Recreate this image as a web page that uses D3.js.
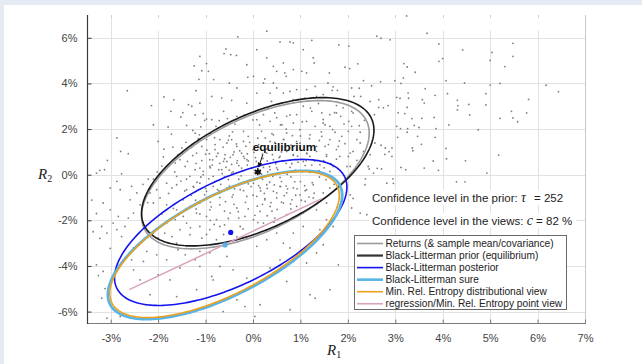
<!DOCTYPE html>
<html><head><meta charset="utf-8">
<script src="https://cdn.jsdelivr.net/npm/d3@7"></script>
<style>
html,body{margin:0;padding:0;background:#e6ebf3;}
svg{display:block;}
</style></head>
<body>
<svg id="chart" width="642" height="364"></svg>
<script>
// ---------- data (percent units) ----------
const xTicks = [-3, -2, -1, 0, 1, 2, 3, 4, 5, 6, 7];
const yTicks = [-6, -4, -2, 0, 2, 4, 6];
const xDomain = [-3.5, 7];
const yDomain = [-6.5, 7];

const legendLabels = [
  "Returns (& sample mean/covariance)",
  "Black-Litterman prior (equilibrium)",
  "Black-Litterman posterior",
  "Black-Litterman sure",
  "Min. Rel. Entropy distributional view",
  "regression/Min. Rel. Entropy point view"
];
const seriesColors = ["#9a9a9a", "#1a1a1a", "#1414f0", "#58b4e6", "#eda11b", "#d8a2bf"];

// ellipses: returns, prior, posterior, sure, MRE distributional
const ellipseCenterX = [0.05, 0.10, -0.47, -0.59, -0.60];
const ellipseCenterY = [0.00, 0.13, -2.53, -3.08, -3.06];
const ellipseHalfX   = [2.40, 2.45, 2.45, 2.47, 2.42];
const ellipseHalfY   = [3.25, 3.25, 3.20, 3.25, 3.20];
const ellipseCorr    = [0.56, 0.56, 0.62, 0.67, 0.67];

// regression / point view line
const regressionX = [-2.61, 1.45];
const regressionY = [-5.04, -1.05];

// means
const equilibrium = [0.10, 0.13];
const posteriorMean = [-0.47, -2.53];
const sureMean = [-0.59, -3.08];

const tau = 252;
const confidence = 82;

// sample returns
const returnPoints = [
[2.61,6.07],[2.70,5.98],[2.89,5.91],[3.67,6.20],[3.24,6.96],[3.92,5.73],[1.81,5.69],[2.02,5.64],[4.42,5.47],[5.04,5.36],
[5.48,5.76],[5.48,5.19],[5.00,5.01],[5.31,4.74],[3.92,4.97],[4.00,5.09],[1.94,4.71],[2.04,4.65],[2.21,4.86],[3.18,4.87],
[3.25,4.72],[3.42,4.49],[1.61,4.46],[2.33,4.12],[2.69,4.07],[2.99,4.12],[3.17,4.24],[3.12,4.00],[4.07,4.12],[4.46,4.02],
[5.00,3.93],[5.21,4.00],[6.18,3.92],[6.44,3.64],[5.81,3.30],[5.77,2.71],[5.45,2.78],[5.48,2.49],[5.58,2.32],[5.21,2.47],
[4.91,3.55],[4.91,3.06],[4.57,2.62],[4.55,3.08],[4.31,3.26],[4.32,3.03],[4.31,2.84],[4.10,3.55],[3.84,3.48],[3.63,3.77],
[3.57,3.29],[3.61,3.14],[3.27,3.58],[3.28,3.35],[3.10,3.35],[3.03,3.39],[3.06,2.72],[3.25,2.95],[3.20,2.68],[3.35,2.46],
[3.56,2.47],[3.82,2.51],[4.13,2.18],[3.86,2.02],[3.50,2.07],[3.40,2.16],[3.26,2.02],[3.11,2.02],[3.03,2.12],[3.05,1.64],
[3.25,1.86],[3.47,1.68],[3.84,1.64],[4.75,1.97],[4.07,1.15],[4.08,0.70],[4.48,0.61],[5.18,0.86],[4.93,0.07],[3.91,0.19],
[3.80,0.60],[3.61,0.29],[3.55,1.33],[3.36,1.17],[3.37,1.05],[3.12,0.32],[3.22,0.22],[2.93,0.80],[2.93,1.18],[2.79,1.17],
[2.87,1.01],[2.70,1.29],[2.78,0.89],[2.71,0.25],[2.62,0.28],[2.45,0.25],[2.95,-0.18],[2.37,-0.18],[4.29,-0.31],[4.47,-0.31],
[1.58,4.02],[1.69,3.85],[1.78,3.70],[1.67,3.70],[1.48,3.51],[2.08,3.80],[2.24,3.79],[2.50,3.90],[2.13,3.43],[2.27,3.43],
[2.47,3.21],[2.65,3.29],[2.75,2.93],[2.65,2.95],[2.85,3.03],[2.56,2.63],[2.35,2.38],[2.24,2.15],[2.26,1.86],[2.08,2.12],
[2.01,1.90],[2.02,2.34],[1.85,2.56],[1.76,2.71],[1.62,2.63],[1.90,2.93],[1.76,3.03],[2.08,2.78],[2.11,2.71],[1.48,2.27],
[1.62,2.12],[1.73,1.86],[1.87,1.68],[1.94,1.36],[1.80,1.24],[1.62,1.54],[1.52,1.24],[2.19,1.54],[2.26,1.39],[2.33,1.02],
[2.11,1.02],[2.01,0.80],[2.19,0.63],[2.05,0.36],[1.83,0.80],[1.55,0.80],[1.69,0.36],[2.43,0.36],[2.54,0.07],[2.47,0.88],
[2.57,1.39],
[-0.57,5.51],[-0.61,5.31],[-0.47,5.26],[-0.35,5.23],[-0.98,4.87],[-1.24,4.77],[-1.08,4.56],[-0.13,4.82],[-0.11,4.27],[-0.83,4.17],
[-1.14,4.18],[-0.34,3.80],[-0.50,4.02],[-1.20,3.68],[-2.65,3.68],[-1.88,3.41],[-1.67,3.28],[-2.14,3.03],[-1.36,3.07],[-1.29,3.00],
[-1.12,3.14],[-0.87,3.43],[-0.66,3.36],[-0.45,3.26],[-0.13,3.14],[-1.73,2.78],[-1.52,2.53],[-1.22,2.62],[-1.05,2.68],[-0.98,2.44],
[-0.87,2.41],[-0.71,2.37],[-0.54,2.46],[-0.34,2.56],[-2.10,2.19],[-1.79,2.09],[-1.40,2.16],[-1.27,1.94],[-2.87,1.61],[-2.00,1.46],
[-1.13,1.75],[-1.15,1.58],[-2.79,1.02],[-2.63,0.92],[-3.07,0.63],[-3.13,0.22],[-2.77,0.04],[-2.21,-0.19],[-2.10,-0.19],[-1.89,0.78],
[-1.69,1.21],[-1.50,1.18],[-1.39,1.07],[-1.49,0.95],[-1.54,0.66],[-1.64,0.51],[-1.43,0.36],[-1.22,0.22],[-1.12,0.29],[-0.91,0.36],
[-0.66,0.22],[-1.19,0.95],[-1.08,1.24],[-0.98,1.54],[-0.80,1.32],[-0.70,1.54],[-0.55,1.39],[-0.45,1.54],[-0.34,1.24],[-0.20,1.46],
[-0.10,1.68],[-0.24,0.95],[-0.42,0.88],[-0.59,0.88],[-0.77,0.80],[-0.91,0.66],[-0.55,0.58],[-0.34,0.51],[-0.13,0.66],[-0.24,0.29],
[-0.45,0.07],[-0.84,-0.07],[-1.05,0.00],[-1.33,-0.07],[-1.61,-0.07],[-3.23,0.19],[-3.30,0.07],[-0.32,6.04],[0.29,6.29],[0.57,5.82],
[0.78,5.82],[0.85,5.78],[1.06,5.48],[1.24,5.89],[1.27,5.12],[1.03,4.53],[0.70,4.31],[0.85,4.61],[0.64,4.90],[0.43,4.75],
[0.29,5.12],[0.08,5.48],[0.01,4.31],[0.22,4.02],[0.50,3.80],[0.78,3.65],[1.13,3.73],[1.31,3.87],[-1.12,5.19],[-0.94,4.53],
[1.29,4.90],[1.13,4.46],[0.67,4.46],[0.50,4.53],[0.25,4.20],[0.43,4.02],[0.92,3.73],[0.64,3.58],[0.36,3.58],[0.08,3.58],
[0.39,3.21],[0.61,3.14],[0.85,3.29],[1.10,3.36],[1.34,3.43],[1.06,3.00],[1.24,2.78],[1.45,2.71],[0.92,2.63],[0.71,2.56],
[0.46,2.71],[0.22,2.63],[0.08,2.41],[0.36,2.34],[0.61,2.19],[0.85,2.27],[1.13,2.34],[1.31,2.12],[1.52,2.19],[0.99,1.97],
[0.71,1.83],[0.43,1.75],[0.18,1.90],[1.20,1.75],[1.45,1.68],[0.64,1.54],[0.92,1.46],[0.36,1.46],[1.76,1.10],[1.34,1.24],
[2.05,0.95],[1.55,0.88],[1.13,0.95],[0.85,0.88],[0.57,0.80],[0.71,1.02],[0.29,0.95],[0.43,0.66],[1.06,0.58],[1.41,0.44],
[1.98,0.36],[1.62,0.14],[1.20,0.14],[0.36,0.22],[0.64,0.07],
[-3.16,-1.24],[-3.01,-1.54],[-3.19,-2.27],[-3.08,-2.56],[-2.95,-2.12],[-2.84,-1.83],[-2.87,-2.41],[-2.77,-2.71],[-2.70,-2.27],[-2.63,-1.90],
[-2.52,-1.68],[-2.59,-1.10],[-2.45,-0.80],[-2.80,-0.66],[-3.01,-0.58],[-2.56,-0.51],[-2.38,-1.32],[-2.52,-3.21],[-2.56,-3.73],[-3.16,-4.24],
[-3.19,-5.41],[-2.80,-6.21],[-3.08,-6.29],[-2.21,-2.71],[-2.10,-2.56],[-2.00,-2.78],[-1.86,-2.56],[-1.71,-2.71],[-2.24,-3.36],[-2.03,-3.51],
[-2.31,-3.80],[-1.82,-3.73],[-1.58,-3.29],[-1.43,-3.51],[-1.54,-4.09],[-2.52,-4.17],[-2.38,-4.61],[-2.00,-4.39],[-1.75,-4.61],[-1.22,-3.73],
[-1.12,-4.02],[-0.87,-4.46],[-0.84,-4.61],[-1.19,-5.04],[-1.61,-5.34],[-2.17,-5.26],[-1.33,-6.07],[-0.63,-6.00],[-0.34,-5.48],[-0.17,-5.78],
[-0.13,-4.53],[-0.42,-4.17],[-0.70,-4.02],[-0.55,-3.58],[-0.91,-3.43],[-1.12,-3.36],[-1.40,-3.14],[-1.61,-3.00],[-0.77,-2.85],[-1.08,-2.78],
[-1.33,-2.63],[-1.54,-2.41],[-1.82,-2.12],[-1.64,-1.97],[-1.40,-2.12],[-1.12,-2.27],[-0.91,-2.41],[-0.70,-2.27],[-0.27,-2.27],[-0.34,-2.71],
[-0.13,-2.78],
[-1.82,-0.37],[-1.71,-0.58],[-1.61,-0.44],[-1.40,-0.66],[-1.26,-0.51],[-1.12,-0.37],[-0.98,-0.73],[-0.84,-0.51],[-0.70,-0.80],[-0.55,-0.58],
[-0.42,-0.88],[-0.27,-0.66],[-0.13,-0.95],[-1.47,-1.10],[-1.33,-1.39],[-1.12,-1.24],[-0.91,-1.54],[-0.70,-1.32],[-0.48,-1.68],[-0.34,-1.46],
[-0.17,-1.83],[-1.61,-1.54],[-1.82,-1.32],[-1.96,-1.02],[-2.10,-1.24],[-2.17,-0.80],[-2.03,-0.66],[-1.19,-1.68],[-0.98,-1.83],[-0.77,-1.97],
[-1.47,-1.83],
[0.01,-0.37],[0.15,-0.58],[0.29,-0.44],[0.43,-0.73],[0.57,-0.51],[0.71,-0.80],[0.85,-0.58],[0.99,-0.88],[1.13,-0.66],[1.27,-0.44],
[0.08,-0.95],[0.25,-1.10],[0.50,-1.02],[0.64,-1.24],[0.82,-1.10],[0.36,-1.39],[0.15,-1.61],[0.92,-1.39],[1.10,-1.17],[1.27,-1.02],
[1.48,-0.80],[1.62,-0.58],[0.01,-1.97],[0.22,-2.12],[0.46,-1.90],[0.71,-1.75],[1.06,-1.68],[1.34,-1.54],[1.55,-1.24],
[2.36,-0.44],[2.82,-0.37],[2.05,-0.88],[2.08,-1.46],[2.26,-1.68],[2.40,-1.75],[1.55,-1.97],[1.69,-2.27],[1.41,-2.41],[1.06,-2.27],
[0.85,-2.56],[0.50,-2.56],[0.29,-2.85],[0.08,-3.14],[0.64,-3.00],[0.78,-3.21],[1.06,-3.36],[1.34,-3.43],[1.48,-3.07],[1.80,-3.95],
[1.13,-3.87],[0.85,-3.80],[0.57,-3.73],[0.36,-4.09],[1.62,-5.04],[1.20,-5.26],[1.31,-5.41],[0.78,-5.92],[0.04,-6.21],[0.15,-5.70],
[0.71,-4.68],[2.11,-1.04],[2.96,-0.38],
[-3.40,-1.11],[-3.30,-1.70],[-3.23,-2.79],[-3.37,-2.50],[-3.30,-3.95],[-3.26,-4.42],[-3.01,-3.23],[-3.12,-4.99],[-2.87,-0.29],
[-1.3,1.2],[-1.0,0.9],[-0.8,1.1],[-0.6,0.7],[-0.4,1.0],[-0.2,0.8],[0.0,1.1],[0.2,0.9],[0.4,1.2],[0.6,1.0],
[0.8,1.3],[1.0,1.1],[1.2,0.8],[1.4,1.5],[-1.2,0.5],[-0.9,0.3],[-0.7,0.5],[-0.5,0.2],[-0.3,0.4],[-0.1,0.6],
[0.1,0.4],[0.3,0.6],[0.5,0.3],[0.7,0.5],[0.9,0.2],[1.1,0.4],[1.3,0.6],[1.5,0.3],[-1.4,-0.2],[-1.1,-0.1],
[-0.8,-0.3],[-0.6,-0.1],[-0.3,-0.2],[-0.1,-0.4],[0.2,-0.2],[0.4,0.0],[0.6,-0.3],[0.8,-0.1],[1.0,-0.3],[1.2,0.1],
[1.4,-0.1],[-1.3,-0.9],[-1.0,-0.6],[-0.7,-1.0],[-0.5,-0.5],[-0.2,-0.7],[0.0,-0.9],[0.3,-0.6],[0.5,-0.8],[0.7,-0.5],
[0.9,-0.9],[1.1,-0.7],[-1.2,-1.5],[-0.9,-1.2],[-0.6,-1.6],[-0.4,-1.3],[-0.1,-1.5],[0.2,-1.3],[0.4,-1.6],[0.6,-1.2],
[0.8,-1.5],[-0.9,-2.0],[-0.6,-2.2],[-0.3,-1.9],[0.1,-2.1],[0.3,-1.8],[0.5,-2.3],[-0.5,1.7],[-0.2,1.9],[0.1,1.6],
[0.4,1.8],[0.7,2.0],[1.0,1.7],[-0.9,1.8],[-1.1,2.1],[0.0,2.4],[0.5,2.5],[-0.45,0.45],[0.15,0.15],[0.55,0.75],
[-0.25,-0.05],[0.85,0.85],[-0.75,-0.65],[0.25,-1.05],[1.25,-0.35],[-1.05,0.15],[0.65,1.55],[-0.35,1.35],[0.05,0.75],[0.45,-0.45],
[-0.65,0.05],[0.95,0.55],[-0.15,1.25],[1.15,1.25],[-0.85,0.65],[0.35,0.35],[-1.25,-0.55],
[-1.65,0.12],[-1.52,-0.28],[-1.38,0.58],[-1.27,0.84],[-1.18,-0.33],[-1.08,0.62],[-0.97,1.08],[-0.93,-0.18],[-0.86,0.42],[-0.81,1.62],
[-0.74,0.94],[-0.68,-0.42],[-0.63,1.21],[-0.57,0.33],[-0.52,-0.21],[-0.48,0.76],[-0.43,1.88],[-0.39,-0.62],[-0.33,0.62],[-0.28,1.05],
[-0.22,0.18],[-0.18,-0.31],[-0.12,0.91],[-0.07,1.42],[-0.03,0.28],[0.03,-0.22],[0.07,0.58],[0.12,1.32],[0.16,-0.71],[0.21,0.71],
[0.26,1.61],[0.31,0.12],[0.35,-0.33],[0.41,0.88],[0.46,1.42],[0.52,0.22],[0.57,-0.12],[0.62,0.61],[0.68,1.21],[0.73,-0.62],
[0.78,0.32],[0.83,1.71],[0.88,-0.31],[0.94,0.81],[0.99,1.38],[1.04,0.12],[1.09,-0.48],[1.14,0.92],[1.19,1.58],[1.24,0.42],
[1.29,-0.81],[1.34,1.02],[1.39,0.18],[1.44,1.88],[1.49,0.62],[1.54,-0.22],[1.59,1.32],[1.64,0.48],[1.71,-0.42],[1.76,0.68],
[-1.44,-0.71],[-1.21,-1.12],[-1.02,-0.88],[-0.88,-1.41],[-0.72,-0.71],[-0.58,-1.18],[-0.44,-0.98],[-0.31,-1.62],[-0.16,-1.21],[-0.04,-0.52],
[0.09,-1.38],[0.24,-0.82],[0.38,-1.22],[0.51,-1.52],[0.66,-0.92],[0.79,-1.28],[0.93,-0.62],[1.02,-1.12],[1.18,-0.98],[-0.82,-2.18],
[-0.52,-1.92],[-0.21,-2.38],[0.04,-1.78],[0.28,-2.42],[0.44,-2.08],[-1.12,-1.72],[-1.32,-2.32],[-0.98,-2.62],[-0.62,-2.62],[0.62,-2.12],
[-1.58,0.88],[-1.41,1.42],[-1.22,1.82],[-1.02,2.38],[-0.78,2.12],[-0.62,2.78],[-0.38,2.22],[-0.18,2.62],[0.14,2.18],[0.31,2.88],
[0.58,2.18],[0.78,2.62],[1.04,2.32],[1.21,2.92],[1.48,2.42],[1.68,1.98],[1.82,1.48],[1.92,2.22],[1.72,2.72],[1.38,3.12],
[-1.92,0.38],[-1.78,-0.82],[-2.02,0.12],[-1.88,1.12],[-1.72,1.78],[-1.48,2.72],[-1.68,-1.48],[-1.92,-1.72],[-2.22,-1.22],[-2.32,-0.42],
[0.18,0.02],[-0.12,0.42],[0.48,0.48],[-0.42,0.12],[0.72,0.02],[0.02,0.98],[-0.62,0.58],[0.92,1.08],[0.28,1.12],[-0.28,-0.42],
[0.12,-0.48],[0.58,-0.52],[-0.72,0.22],[1.12,0.62],[-0.92,0.92],[0.42,-0.08],[-0.18,0.72],[0.82,0.48],[0.22,0.32],[-0.52,1.52]
];

// ---------- drawing ----------
const svg = d3.select("#chart");
const W = 642, H = 364;
const plot = {left: 87, right: 585, top: 15, bottom: 323};

svg.append("rect").attr("x", 4).attr("y", 5).attr("width", W - 4).attr("height", H - 5).attr("fill", "#ffffff");

const x = d3.scaleLinear().domain(xDomain).range([plot.left, plot.right]);
const y = d3.scaleLinear().domain(yDomain).range([plot.bottom, plot.top]);

const font = "'Liberation Sans', Arial, Helvetica, sans-serif";

// grid
const grid = svg.append("g");
grid.selectAll(".gy").data(yTicks).join("line")
  .attr("x1", plot.left).attr("x2", plot.right)
  .attr("y1", d => Math.round(y(d)) + 0.5).attr("y2", d => Math.round(y(d)) + 0.5)
  .attr("stroke", "#e2e2e2").attr("stroke-width", 1);
grid.selectAll(".gx").data(xTicks.slice(0, -1)).join("line")
  .attr("x1", d => Math.round(x(d)) + 0.5).attr("x2", d => Math.round(x(d)) + 0.5)
  .attr("y1", plot.top).attr("y2", plot.bottom)
  .attr("stroke", "#e2e2e2").attr("stroke-width", 1);
// empty title band masks the grid near the top
svg.append("rect").attr("x", 125).attr("y", 17.5).attr("width", 448).attr("height", 13).attr("fill", "#fff");
// top box ticks
svg.append("g").selectAll("line").data(xTicks.slice(0, -1)).join("line")
  .attr("x1", d => Math.round(x(d)) + 0.5).attr("x2", d => Math.round(x(d)) + 0.5)
  .attr("y1", plot.top).attr("y2", plot.top + 3)
  .attr("stroke", "#d0d0d0");

// scatter
svg.append("g").selectAll("circle").data(returnPoints).join("circle")
  .attr("cx", d => x(d[0])).attr("cy", d => y(d[1])).attr("r", 0.9)
  .attr("fill", "#7e7e7e");

// ellipses
function ellipsePoints(i) {
  const pts = [];
  const s = Math.sqrt(1 - ellipseCorr[i] * ellipseCorr[i]);
  for (let k = 0; k <= 200; k++) {
    const t = 2 * Math.PI * k / 200;
    pts.push([ellipseCenterX[i] + ellipseHalfX[i] * Math.cos(t),
              ellipseCenterY[i] + ellipseHalfY[i] * (ellipseCorr[i] * Math.cos(t) + s * Math.sin(t))]);
  }
  return pts;
}
const line = d3.line().x(d => x(d[0])).y(d => y(d[1])).curve(d3.curveLinearClosed);
const ellWidths = [1.6, 1.6, 1.6, 2.8, 1.6];
const drawOrder = [0, 1, 2, 3, 4];
const eg = svg.append("g").attr("fill", "none");
drawOrder.forEach(i => {
  eg.append("path").attr("d", line(ellipsePoints(i)))
    .attr("stroke", seriesColors[i]).attr("stroke-width", ellWidths[i]);
});

// regression line
svg.append("path")
  .attr("d", d3.line().x(d => x(d[0])).y(d => y(d[1]))(regressionX.map((v, i) => [v, regressionY[i]])))
  .attr("stroke", seriesColors[5]).attr("stroke-width", 1.5).attr("fill", "none");

// means
svg.append("circle").attr("cx", x(posteriorMean[0])).attr("cy", y(posteriorMean[1])).attr("r", 2.6).attr("fill", seriesColors[2]);
svg.append("circle").attr("cx", x(sureMean[0])).attr("cy", y(sureMean[1])).attr("r", 2.6).attr("fill", seriesColors[3]);
svg.append("path").attr("d", d3.symbol(d3.symbolAsterisk, 36)())
  .attr("transform", `translate(${x(equilibrium[0])},${y(equilibrium[1])})`)
  .attr("stroke", "#111").attr("stroke-width", 1.6).attr("fill", "none");
svg.append("path").attr("d", d3.symbol(d3.symbolStar, 18)())
  .attr("transform", `translate(${x(equilibrium[0])},${y(equilibrium[1])})`)
  .attr("fill", "#111");

// equilibrium annotation
const ex = x(equilibrium[0]), ey = y(equilibrium[1]);
svg.append("text").attr("x", ex - 5).attr("y", ey - 21)
  .attr("font-family", font).attr("font-weight", "bold").attr("font-size", 11.8)
  .attr("fill", "#111").text("equilibrium");
svg.append("defs").append("marker").attr("id", "arr").attr("viewBox", "0 0 6 6")
  .attr("refX", 5).attr("refY", 3).attr("markerWidth", 5).attr("markerHeight", 5).attr("orient", "auto")
  .append("path").attr("d", "M0,0 L6,3 L0,6 Z").attr("fill", "#111");
svg.append("line").attr("x1", ex + 5).attr("y1", ey - 17).attr("x2", ex + 1).attr("y2", ey - 5)
  .attr("stroke", "#111").attr("stroke-width", 1).attr("marker-end", "url(#arr)");

// axes
svg.append("line").attr("x1", plot.right + 0.5).attr("x2", plot.right + 0.5).attr("y1", plot.top).attr("y2", plot.bottom)
  .attr("stroke", "#c8c8c8");
svg.append("line").attr("x1", plot.left).attr("x2", plot.right + 1).attr("y1", plot.bottom + 0.5).attr("y2", plot.bottom + 0.5)
  .attr("stroke", "#7a7a7a");
svg.append("line").attr("x1", plot.left + 0.5).attr("x2", plot.left + 0.5).attr("y1", plot.top).attr("y2", plot.bottom + 1)
  .attr("stroke", "#3a3a3a").attr("stroke-width", 1.2);

const xAxis = svg.append("g").attr("transform", `translate(0,${plot.bottom + 0.5})`)
  .call(d3.axisBottom(x).tickValues(xTicks).tickSize(-4).tickPadding(11).tickFormat(d => d + "%"));
xAxis.select(".domain").remove();
xAxis.selectAll(".tick line").attr("stroke", "#7a7a7a");
xAxis.selectAll("text").attr("font-family", font).attr("font-size", 11).attr("fill", "#444");

const yAxis = svg.append("g").attr("transform", `translate(${plot.left + 0.5},0)`)
  .call(d3.axisLeft(y).tickValues(yTicks).tickSize(-4).tickPadding(10).tickFormat(d => d + "%"));
yAxis.select(".domain").remove();
yAxis.selectAll(".tick line").attr("stroke", "#3a3a3a");
yAxis.selectAll("text").attr("font-family", font).attr("font-size", 11).attr("fill", "#444");

// axis titles
const serif = "'Liberation Serif', 'Times New Roman', serif";
const t1 = svg.append("text").attr("x", 327).attr("y", 355).attr("font-family", serif).attr("fill", "#222");
t1.append("tspan").attr("font-style", "italic").attr("font-size", 15).text("R");
t1.append("tspan").attr("font-size", 10).attr("dy", 3).text("1");
const t2 = svg.append("text").attr("x", 38).attr("y", 179).attr("font-family", serif).attr("fill", "#222");
t2.append("tspan").attr("font-style", "italic").attr("font-size", 15).text("R");
t2.append("tspan").attr("font-size", 10).attr("dy", 3).text("2");

// confidence annotations (white boxes)
svg.append("rect").attr("x", 369).attr("y", 190).attr("width", 207).attr("height", 15).attr("fill", "#fff");
svg.append("rect").attr("x", 369).attr("y", 213).attr("width", 207).attr("height", 15).attr("fill", "#fff");
const c1 = svg.append("text").attr("x", 372).attr("y", 201.5).attr("font-family", font).attr("font-size", 11.5).attr("fill", "#222");
c1.append("tspan").text("Confidence level in the prior: ");
c1.append("tspan").attr("font-family", serif).attr("font-style", "italic").attr("font-size", 14).text("τ");
c1.append("tspan").attr("dx", 8).text("= " + tau);
const c2 = svg.append("text").attr("x", 372).attr("y", 224.5).attr("font-family", font).attr("font-size", 11.5).attr("fill", "#222");
c2.append("tspan").text("Confidence level in the views: ");
c2.append("tspan").attr("font-family", serif).attr("font-style", "italic").attr("font-size", 14).text("c");
c2.append("tspan").text(" = " + confidence + " %");

// legend
const lg = svg.append("g");
lg.append("rect").attr("x", 354.5).attr("y", 235.5).attr("width", 212).attr("height", 74)
  .attr("fill", "#fff").attr("stroke", "#6a6a6a").attr("stroke-width", 1);
const legendWidths = [1.6, 2.2, 1.6, 2.6, 1.6, 1.6];
const legendStroke = ["#9a9a9a", "#333333", "#1414f0", "#58b4e6", "#eda11b", "#d8a2bf"];
legendLabels.forEach((lab, i) => {
  const yy = 243.5 + i * 12.05;
  lg.append("line").attr("x1", 357).attr("x2", 383).attr("y1", yy).attr("y2", yy)
    .attr("stroke", legendStroke[i]).attr("stroke-width", legendWidths[i]);
  lg.append("text").attr("x", 385.5).attr("y", yy + 3.7).attr("font-family", font).attr("font-size", 10.2)
    .attr("fill", "#222").text(lab);
});
</script>
</body></html>
